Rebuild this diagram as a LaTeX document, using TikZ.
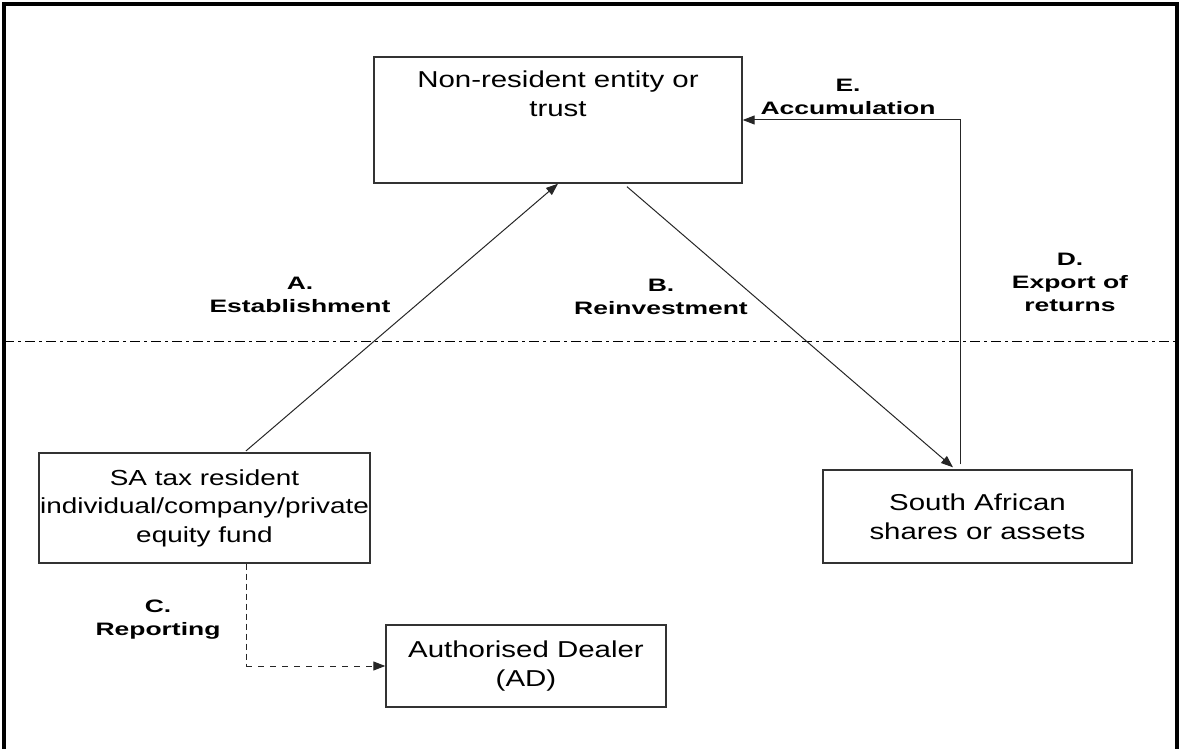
\documentclass[tikz,border=0pt]{standalone}
\usepackage{fontspec}
\newfontfamily\boxfont[FakeStretch=1.28]{Liberation Sans}
\newfontfamily\tagfont[FakeStretch=1.47]{Liberation Sans}
\usetikzlibrary{arrows.meta}

\begin{document}
\begin{tikzpicture}[x = 0.5pt, y = -0.5pt]
	\tikzstyle{boxStyle} = [draw = black!80, line width = 0.7pt, inner sep = 0pt, align = center, font = \boxfont\fontsize{11.5}{14.3}\selectfont]
	\tikzstyle{tagStyle} = [inner sep = 0pt, align = center, font = \tagfont\bfseries\fontsize{9}{11.5}\selectfont]
	\tikzstyle{flowStyle} = [draw = black!85, line width = 0.5pt, -{Triangle[length = 6pt, width = 4.5pt]}]
	\useasboundingbox (0, 0) rectangle (1180, 749);
	% frame and border line
	\draw[line width = 1.7pt] (4, 749) -- (4, 4) -- (1177, 4) -- (1177, 749);
	\draw[line width = 0.5pt, dash pattern = on 5pt off 2pt on 1.5pt off 2pt] (4, 342) -- (1177, 342);
	% boxes
	\node[boxStyle] (nre) at (558, 120) {\parbox[c][63pt][t]{184pt}{\centering\rule{0pt}{15.5pt}Non-resident entity or\\ trust}};
	\node[boxStyle, minimum width = 165.5pt, minimum height = 55pt, font = \boxfont\fontsize{10.9}{14.3}\selectfont] (sa) at (204.5, 508) {SA tax resident\\ individual/company/private\\ equity fund};
	\node[boxStyle, minimum width = 154.5pt, minimum height = 46.5pt] (sas) at (977.5, 516.5) {South African\\ shares or assets};
	\node[boxStyle, minimum width = 140pt, minimum height = 41pt] (ad) at (526, 666) {Authorised Dealer\\ (AD)};
	% labels
	\node[tagStyle] (tagA) at (300, 295) {A.\\ Establishment};
	\node[tagStyle] (tagB) at (661, 297) {B.\\ Reinvestment};
	\node[tagStyle] (tagC) at (158, 620) {C.\\ Reporting};
	\node[tagStyle] (tagD) at (1070, 282) {D.\\ Export of\\ returns};
	\node[tagStyle] (tagE) at (848, 97) {E.\\ Accumulation};
	% connectors
	\draw[flowStyle] ([xshift = 20.75pt, yshift = 0.7pt]sa.north) -- (nre.south);
	\draw[flowStyle] ([xshift = 34.5pt, yshift = -1.5pt]nre.south) -- ([xshift = -12.25pt, yshift = 1pt]sas.north);
	\draw[flowStyle] ([xshift = -8.75pt, yshift = 2.5pt]sas.north) |- (nre.east);
	\coordinate (cbend) at ([xshift = 20.75pt]sa.south |- ad.west);
	\draw[draw = black!85, line width = 0.5pt, densely dashed] ([xshift = 20.75pt]sa.south) -- (cbend);
	\draw[flowStyle, dashed] (cbend) -- (ad.west);
\end{tikzpicture}
\end{document}
